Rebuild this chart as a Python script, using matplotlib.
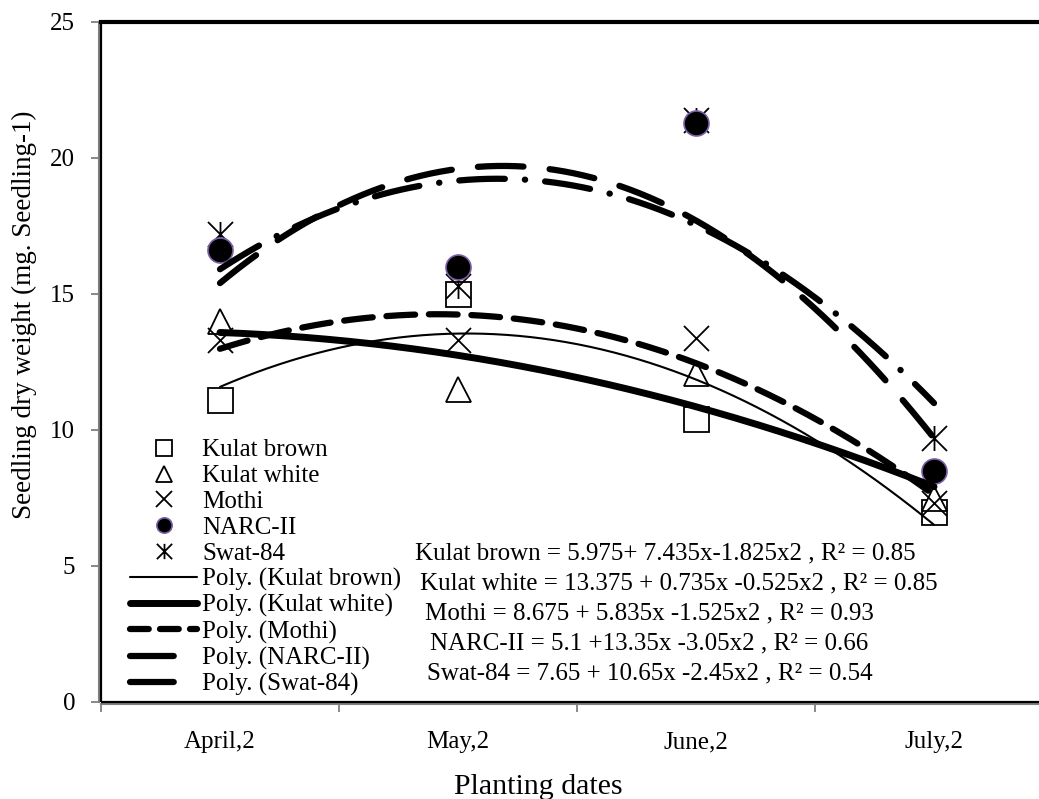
import numpy as np
import matplotlib
matplotlib.use("Agg")
import matplotlib.pyplot as plt
from matplotlib.lines import Line2D
from matplotlib.path import Path
from matplotlib.patches import Rectangle

plt.rcParams['font.family'] = ['Liberation Serif', 'DejaVu Serif']

# ---- data ----
dates = ["April,2", "May,2", "June,2", "July,2"]
kulat_brown = [11.1, 15.0, 10.4, 7.0]
kulat_white = [14.0, 11.5, 12.1, 7.5]
mothi = [13.3, 13.3, 13.4, 7.3]
narc = [16.6, 16.0, 21.3, 8.5]
swat = [17.2, 15.3, 21.4, 9.7]
series_names = ["Kulat brown", "Kulat white", "Mothi", "NARC-II", "Swat-84"]
equations = [
    "Kulat brown = 5.975+ 7.435x-1.825x2 , R\u00b2 = 0.85",
    "Kulat white = 13.375 + 0.735x -0.525x2 , R\u00b2 = 0.85",
    "Mothi = 8.675 + 5.835x -1.525x2 , R\u00b2 = 0.93",
    "NARC-II = 5.1 +13.35x -3.05x2 , R\u00b2 = 0.66",
    "Swat-84 = 7.65 + 10.65x -2.45x2 , R\u00b2 = 0.54",
]
yticks = [0, 5, 10, 15, 20, 25]

W, H = 1039, 799
fig = plt.figure(figsize=(W / 100, H / 100), dpi=100)
ax = fig.add_axes([101 / W, (H - 702) / H, 952 / W, 680 / H])

x = np.arange(1, len(dates) + 1)
xs = np.linspace(1, 4, 300)

star = Path([(-1, -1), (1, 1), (-1, 1), (1, -1), (0, -1), (0, 1)],
            [Path.MOVETO, Path.LINETO, Path.MOVETO, Path.LINETO, Path.MOVETO, Path.LINETO])

all_data = [kulat_brown, kulat_white, mothi, narc, swat]
mk_styles = [
    dict(marker='s', mfc='white', mec='black', mew=1.3),
    dict(marker='^', mfc='white', mec='black', mew=1.3),
    dict(marker='x', mfc='none', mec='black', mew=1.3),
    dict(marker='o', mfc='black', mec='#7a5fa8', mew=1.2),
    dict(marker=star, mfc='none', mec='black', mew=1.3),
]
line_styles = [
    dict(lw=1.5, ls='-'),
    dict(lw=5.0, ls='-'),
    dict(lw=4.5, ls=(0, (4.6, 2.2))),
    dict(lw=4.5, ls=(0, (7.3, 4.2))),
    dict(lw=4.5, ls=(0, (7.3, 3.2, 0.05, 3.2))),
]
legend_line_styles = [
    dict(lw=1.5, ls='-'),
    dict(lw=5.0, ls='-'),
    dict(lw=4.5, ls=(0, (3.0, 1.8))),
    dict(lw=4.5, ls=(0, (7.0, 20))),
    dict(lw=4.5, ls=(0, (7.0, 20))),
]

for s in ['left', 'bottom']:
    ax.spines[s].set_color('#808080')
    ax.spines[s].set_linewidth(1.5)
    ax.spines[s].set_position(('outward', 1.5))
ax.spines['top'].set_linewidth(3)
ax.spines['top'].set_color('black')
ax.spines['right'].set_visible(False)
ax.add_patch(Rectangle((0, 0), 1, 1, transform=ax.transAxes, fill=False,
                       ec='black', lw=1.6, zorder=5, clip_on=False))

order = [0, 1, 2, 4, 3]
for i in order:
    ax.plot(x, all_data[i], ls='none', ms=18, zorder=3, **mk_styles[i])

for i, d in enumerate(all_data):
    c = np.polyfit(x, d, 2)
    ax.plot(xs, np.polyval(c, xs), color='black', solid_capstyle='round',
            dash_capstyle='round', zorder=4, **line_styles[i])

ax.set_xlim(0.5, 4.5)
ax.set_ylim(0, 25)
ax.set_yticks(yticks)
ax.set_yticklabels([str(t) for t in yticks])
ax.set_xticks(x)
ax.set_xticklabels(dates)
ax.set_xticks(np.arange(0.5, 4.6, 1), minor=True)
ax.tick_params(axis='x', which='major', length=0, pad=19.5, labelsize=18)
ax.tick_params(axis='x', which='minor', length=6, color='#808080', width=1.3, direction='out')
ax.tick_params(axis='y', length=6, color='#808080', width=1.3, direction='out', pad=11, labelsize=18)

ax.set_ylabel("Seedling dry weight (mg. Seedling-1)", fontsize=19.5)
ax.yaxis.set_label_coords(-0.067, 0.569)
fig.text(538 / W, 1 - 787 / H, "Planting dates", fontsize=21.5, ha='center', va='center')

# legend
handles = []
for i in range(5):
    handles.append(Line2D([], [], ls='none', ms=11, **mk_styles[i]))
for i in range(5):
    handles.append(Line2D([], [], color='black', solid_capstyle='round',
                          dash_capstyle='round', **legend_line_styles[i]))
labels = series_names + ["Poly. (%s)" % n for n in series_names]
ax.legend(handles, labels, loc='upper left', bbox_to_anchor=(130 / W, 1 - 439 / H),
          bbox_transform=fig.transFigure, frameon=False, fontsize=18,
          handlelength=2.68, handletextpad=0.2, labelspacing=0.13,
          borderpad=0, borderaxespad=0)

eq_x = [415, 420, 425, 430, 427]
eq_y = [553, 583, 613, 643, 673]
for t, ex, ey in zip(equations, eq_x, eq_y):
    fig.text(ex / W, 1 - ey / H, t, fontsize=18, ha='left', va='center')

fig.savefig("out.png", dpi=100)
